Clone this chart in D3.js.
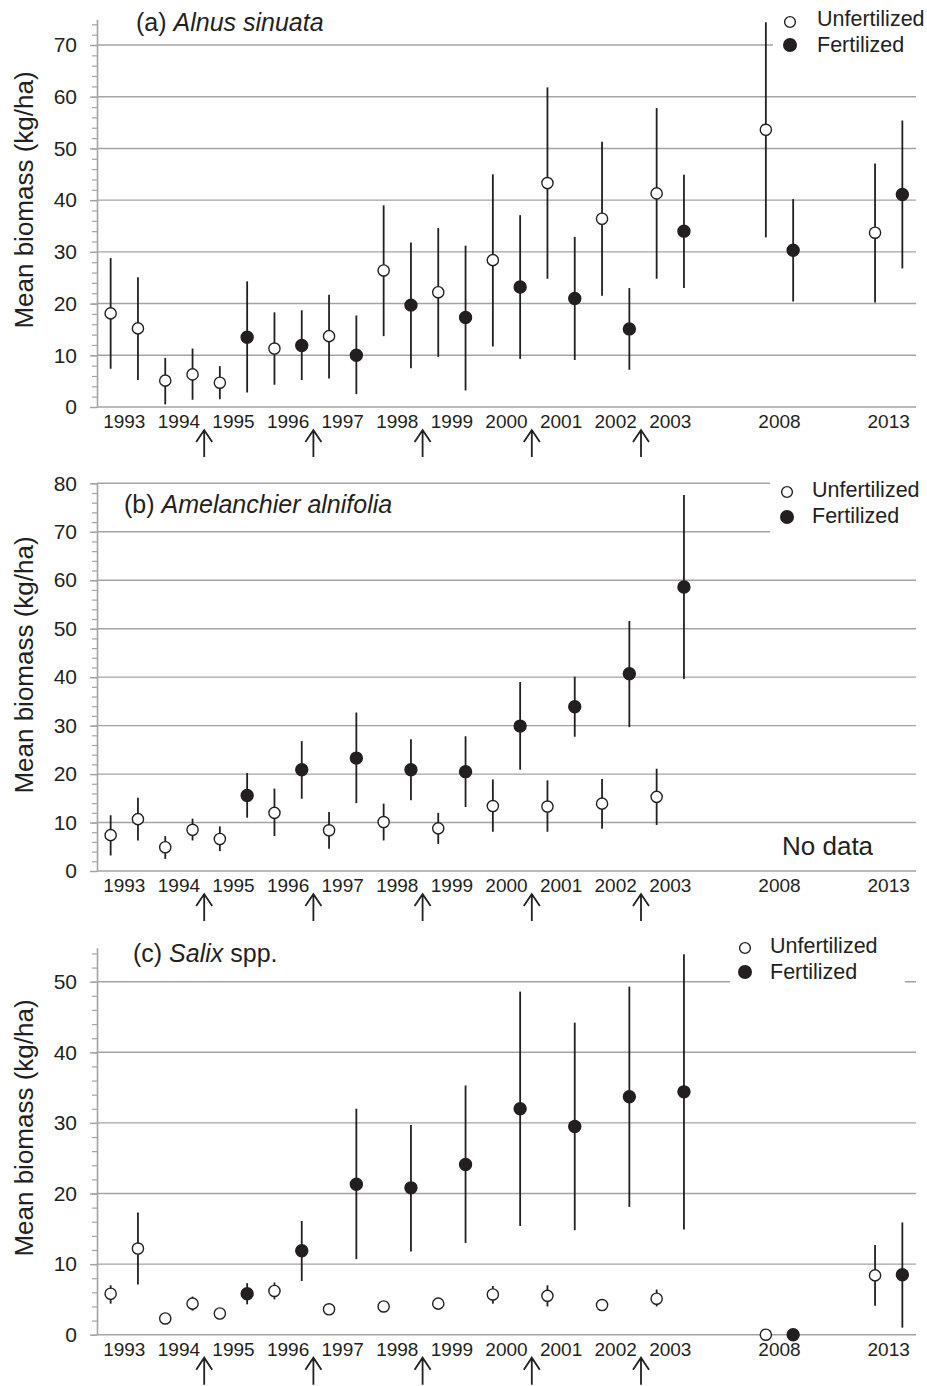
<!DOCTYPE html>
<html>
<head>
<meta charset="utf-8">
<script src="https://cdn.jsdelivr.net/npm/d3@7/dist/d3.min.js"></script>
<style>
  body { margin: 0; background: #fff; }
  svg text { font-family: "Liberation Sans", Arial, sans-serif; fill: #231f20; }
</style>
</head>
<body>
<div id="chart"></div>
<script>
// years on the x axis (two slots per year: control plots, then treatment plots)
var years = [1993, 1994, 1995, 1996, 1997, 1998, 1999, 2000, 2001, 2002, 2003, 2008, 2013];
var fertStartYear = 1995;          // treatment plots drawn filled from this year on
var fertArrowYears = [1994, 1996, 1998, 2000, 2002];  // arrow after these years

// (a) Alnus sinuata
var aCtrlMean = [18.1, 5.1, 4.7, 11.3, 13.7, 26.4, 22.2, 28.4, 43.3, 36.4, 41.3, 53.6, 33.7];
var aCtrlLo   = [7.4, 0.5, 1.5, 4.3, 5.5, 13.7, 9.7, 11.7, 24.8, 21.5, 24.8, 32.8, 20.2];
var aCtrlHi   = [28.8, 9.5, 7.9, 18.3, 21.7, 39.0, 34.6, 45.0, 61.8, 51.3, 57.8, 74.4, 47.1];
var aTrtMean  = [15.2, 6.3, 13.5, 11.9, 10.0, 19.7, 17.3, 23.2, 21.0, 15.1, 34.0, 30.3, 41.1];
var aTrtLo    = [5.2, 1.4, 2.8, 5.2, 2.5, 7.5, 3.2, 9.3, 9.1, 7.2, 23.0, 20.4, 26.8];
var aTrtHi    = [25.1, 11.3, 24.3, 18.7, 17.7, 31.8, 31.2, 37.1, 32.9, 23.0, 44.9, 40.2, 55.4];

// (b) Amelanchier alnifolia (no data 2008, 2013)
var bCtrlMean = [7.4, 4.9, 6.6, 12.0, 8.4, 10.1, 8.8, 13.4, 13.3, 13.9, 15.3, null, null];
var bCtrlLo   = [3.2, 2.5, 4.1, 7.2, 4.6, 6.3, 5.6, 8.1, 8.1, 8.7, 9.5, null, null];
var bCtrlHi   = [11.5, 7.2, 9.2, 17.0, 12.2, 13.9, 12.0, 18.9, 18.7, 19.0, 21.1, null, null];
var bTrtMean  = [10.7, 8.5, 15.6, 20.9, 23.3, 20.9, 20.5, 29.9, 33.9, 40.7, 58.6, null, null];
var bTrtLo    = [6.3, 6.3, 11.0, 14.9, 14.0, 14.6, 13.2, 20.9, 27.7, 29.7, 39.6, null, null];
var bTrtHi    = [15.1, 10.8, 20.2, 26.8, 32.7, 27.2, 27.8, 39.0, 40.1, 51.6, 77.6, null, null];

// (c) Salix spp.
var cCtrlMean = [5.8, 2.3, 3.0, 6.2, 3.6, 4.0, 4.4, 5.7, 5.5, 4.2, 5.1, 0, 8.4];
var cCtrlLo   = [4.4, 2.3, 3.0, 5.0, 3.6, 4.0, 4.4, 4.4, 4.0, 4.2, 4.0, 0, 4.1];
var cCtrlHi   = [7.0, 2.3, 3.0, 7.4, 3.6, 4.0, 4.4, 6.9, 7.0, 4.2, 6.4, 0, 12.7];
var cTrtMean  = [12.2, 4.4, 5.8, 11.9, 21.3, 20.8, 24.1, 32.0, 29.5, 33.7, 34.4, 0, 8.5];
var cTrtLo    = [7.1, 3.4, 4.3, 7.6, 10.7, 11.8, 13.0, 15.4, 14.8, 18.1, 14.9, 0, 1.0];
var cTrtHi    = [17.3, 5.4, 7.3, 16.1, 32.0, 29.7, 35.3, 48.6, 44.2, 49.3, 53.9, 0, 15.9];

var panels = [
  {tag: "(a) ", name: "Alnus sinuata", suffix: "", y0: 407, pxPerUnit: 362 / 70, top: 75, gridMax: 70,
   ctrl: [aCtrlMean, aCtrlLo, aCtrlHi], trt: [aTrtMean, aTrtLo, aTrtHi],
   labelX: 136, labelY: 31, titleY: 200,
   legend: {box: [773, 0, 160, 58], x: 790, y1: 22, y2: 45, tx: 817, ty1: 26, ty2: 51.5}},
  {tag: "(b) ", name: "Amelanchier alnifolia", suffix: "", y0: 871, pxPerUnit: 387.7 / 80, top: 80, gridMax: 80,
   ctrl: [bCtrlMean, bCtrlLo, bCtrlHi], trt: [bTrtMean, bTrtLo, bTrtHi],
   labelX: 124, labelY: 513, titleY: 665, noData: true,
   legend: {box: [770, 470, 160, 70], x: 787, y1: 492, y2: 517, tx: 812, ty1: 497, ty2: 523}},
  {tag: "(c) ", name: "Salix", suffix: " spp.", y0: 1334.7, pxPerUnit: 353 / 50, top: 54.8, gridMax: 50,
   ctrl: [cCtrlMean, cCtrlLo, cCtrlHi], trt: [cTrtMean, cTrtLo, cTrtHi],
   labelX: 133, labelY: 962, titleY: 1128,
   legend: {box: [730, 930, 175, 62], x: 745, y1: 948, y2: 972, tx: 770, ty1: 953, ty2: 979}}
];

var width = 927, height = 1386;
var axisX = 97, plotRight = 916;
var ink = "#231f20", gridColor = "#a3a3a3";

var svg = d3.select("#chart").append("svg")
  .attr("width", width)
  .attr("height", height);

// slot positions: 2 per year, with an empty pair before 2008 and before 2013
function yearSlot(i) { return i * 2 + (i >= 11 ? (i - 10) * 2 : 0); }
var x = d3.scaleLinear().domain([-0.5, 29.5]).range([axisX, plotRight]);

panels.forEach(function(p) {
  var g = svg.append("g");
  var y = d3.scaleLinear().domain([0, p.top]).range([p.y0, p.y0 - p.top * p.pxPerUnit]);

  // gridlines (incl. the zero line)
  var gridVals = d3.range(0, p.gridMax + 1, 10);
  g.selectAll("line.grid").data(gridVals).enter().append("line")
    .attr("class", "grid")
    .attr("x1", axisX).attr("x2", plotRight)
    .attr("y1", function(d) { return y(d); }).attr("y2", function(d) { return y(d); })
    .attr("stroke", gridColor).attr("stroke-width", 1.4);

  // minor ticks
  var minorAxis = d3.axisLeft(y)
    .tickValues(d3.range(0, p.top + 0.01, 2))
    .tickSize(5).tickSizeOuter(0).tickFormat("");
  var mg = g.append("g").attr("transform", "translate(" + axisX + ",0)").call(minorAxis);
  mg.selectAll("line").attr("stroke", gridColor).attr("stroke-width", 1.2);
  mg.select(".domain").attr("stroke", gridColor).attr("stroke-width", 1.6);

  // major ticks with labels
  var majorAxis = d3.axisLeft(y)
    .tickValues(gridVals)
    .tickSize(7).tickSizeOuter(0).tickPadding(13);
  var ag = g.append("g").attr("transform", "translate(" + axisX + ",0)").call(majorAxis);
  ag.select(".domain").remove();
  ag.selectAll("line").attr("stroke", gridColor).attr("stroke-width", 1.4);
  ag.selectAll("text").attr("font-size", "21px").attr("fill", ink)
    .style("font-family", "'Liberation Sans', Arial, sans-serif");

  // y title
  g.append("text")
    .attr("transform", "translate(33," + p.titleY + ") rotate(-90)")
    .attr("text-anchor", "middle")
    .attr("font-size", "26px")
    .text("Mean biomass (kg/ha)");

  // year labels
  g.selectAll("text.yr").data(years).enter().append("text")
    .attr("class", "yr")
    .attr("x", function(d, i) { return x(yearSlot(i) + 0.5); })
    .attr("y", p.y0 + 21)
    .attr("text-anchor", "middle")
    .attr("font-size", "19px")
    .text(function(d) { return d; });

  // fertilization arrows
  fertArrowYears.forEach(function(yr) {
    var i = years.indexOf(yr);
    var ax = x(yearSlot(i) + 1.5) - 2;
    var t = p.y0 + 23, b = p.y0 + 50;
    g.append("path")
      .attr("d", "M" + ax + "," + b + "V" + t + "M" + (ax - 8) + "," + (t + 12) + "L" + ax + "," + t + "L" + (ax + 8) + "," + (t + 12))
      .attr("fill", "none").attr("stroke", ink).attr("stroke-width", 1.8);
  });

  // legend background (covers gridlines)
  var L = p.legend;
  g.append("rect").attr("x", L.box[0]).attr("y", L.box[1])
    .attr("width", L.box[2]).attr("height", L.box[3]).attr("fill", "#fff");

  // points: build list from arrays
  var pts = [];
  years.forEach(function(yr, i) {
    [p.ctrl, p.trt].forEach(function(s, k) {
      if (s[0][i] === null) return;
      pts.push({slot: yearSlot(i) + k, mean: s[0][i], lo: s[1][i], hi: s[2][i],
                filled: k === 1 && yr >= fertStartYear});
    });
  });

  g.selectAll("line.err").data(pts).enter().append("line")
    .attr("class", "err")
    .attr("x1", function(d) { return x(d.slot); }).attr("x2", function(d) { return x(d.slot); })
    .attr("y1", function(d) { return y(d.lo); }).attr("y2", function(d) { return y(d.hi); })
    .attr("stroke", ink).attr("stroke-width", 1.8);

  g.selectAll("circle.pt").data(pts).enter().append("circle")
    .attr("class", "pt")
    .attr("cx", function(d) { return x(d.slot); })
    .attr("cy", function(d) { return y(d.mean); })
    .attr("r", function(d) { return d.filled ? 6 : 5.6; })
    .attr("fill", function(d) { return d.filled ? ink : "#fff"; })
    .attr("stroke", ink).attr("stroke-width", 1.4);

  // panel label
  var lab = g.append("text").attr("x", p.labelX).attr("y", p.labelY).attr("font-size", "25px");
  lab.append("tspan").text(p.tag);
  lab.append("tspan").attr("font-style", "italic").text(p.name);
  if (p.suffix) lab.append("tspan").text(p.suffix);

  // legend
  g.append("circle").attr("cx", L.x).attr("cy", L.y1).attr("r", 5.4)
    .attr("fill", "#fff").attr("stroke", ink).attr("stroke-width", 1.4);
  g.append("circle").attr("cx", L.x).attr("cy", L.y2).attr("r", 7)
    .attr("fill", ink);
  g.append("text").attr("x", L.tx).attr("y", L.ty1).attr("font-size", "21.5px").text("Unfertilized");
  g.append("text").attr("x", L.tx).attr("y", L.ty2).attr("font-size", "21.5px").text("Fertilized");

  if (p.noData) {
    g.append("text").attr("x", 782).attr("y", p.y0 - 16).attr("font-size", "26px").text("No data");
  }
});
</script>
</body>
</html>
